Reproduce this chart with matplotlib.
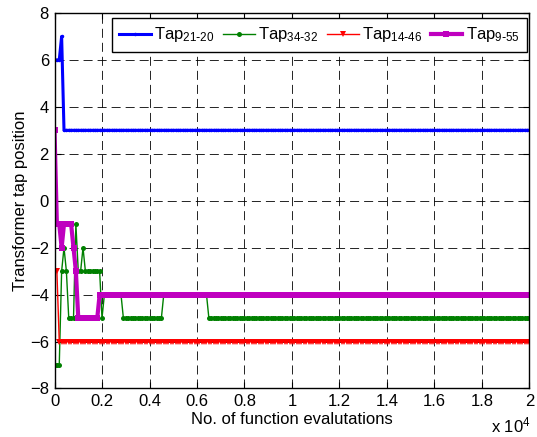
import numpy as np
import matplotlib
matplotlib.use('Agg')
import matplotlib.pyplot as plt

plt.rcParams['font.family'] = ['Liberation Sans', 'DejaVu Sans']
plt.rcParams['mathtext.default'] = 'regular'
plt.rcParams['lines.scale_dashes'] = False

# Tap positions sampled every 100 function evaluations,
# stored as (value, number of samples) runs read off the figure
step = 100
n_evals = 20000

tap_21_20_vals = [6, 7, 3]
tap_21_20_runs = [3, 1, 197]

tap_34_32_vals = [-7, -3, -2, -3, -5, -1, -3, -2, -3, -5, -4, -5, -4, -5]
tap_34_32_runs = [3, 1, 1, 1, 3, 1, 2, 1, 7, 1, 8, 17, 19, 136]

tap_14_46_vals = [-3, -6]
tap_14_46_runs = [2, 199]

tap_9_55_vals = [3, -1, -2, -1, -2, -3, -5, -4]
tap_9_55_runs = [1, 2, 1, 4, 1, 1, 9, 182]

labels = [r'Tap$_{21\text{-}20}$', r'Tap$_{34\text{-}32}$',
          r'Tap$_{14\text{-}46}$', r'Tap$_{9\text{-}55}$']

x_ticks = np.arange(0, n_evals + 1, 2000)
x_tick_labels = ['0', '0.2', '0.4', '0.6', '0.8', '1', '1.2', '1.4', '1.6', '1.8', '2']
y_ticks = np.arange(-8, 9, 2)

evals = np.arange(0, n_evals + 1, step)
tap_21_20 = np.repeat(tap_21_20_vals, tap_21_20_runs)
tap_34_32 = np.repeat(tap_34_32_vals, tap_34_32_runs)
tap_14_46 = np.repeat(tap_14_46_vals, tap_14_46_runs)
tap_9_55 = np.repeat(tap_9_55_vals, tap_9_55_runs)

fig = plt.figure(figsize=(5.37, 4.37), dpi=100)
ax = fig.add_axes([0.1015, 0.111, 0.8845, 0.8593])

ax.plot(evals, tap_21_20, color='#0000ff', lw=2.2, marker='.', ms=3, label=labels[0])
ax.plot(evals, tap_34_32, color='#008000', lw=1.0, marker='o', ms=3.6, mew=0, label=labels[1])
ax.plot(evals, tap_14_46, color='#ff0000', lw=1.0, marker='v', ms=4, mew=0, label=labels[2])
ax.plot(evals, tap_9_55, color='#bf00bf', lw=3.0, marker='s', ms=5, mew=0, label=labels[3])

ax.set_xlim(0, n_evals)
ax.set_ylim(-8, 8)
ax.set_xticks(x_ticks)
ax.set_xticklabels(x_tick_labels)
ax.set_yticks(y_ticks)
ax.tick_params(direction='in', top=True, right=True, length=4, width=0.8,
               labelsize=12, pad=4)
ax.grid(True, color='black', lw=0.6, linestyle=(0, (6.5, 3.6)))
for s in ax.spines.values():
    s.set_linewidth(1.0)

ax.set_xlabel('No. of function evalutations', fontsize=12, labelpad=2)
ax.set_ylabel('Transformer tap position', fontsize=12, labelpad=1)
fig.text(0.988, 0.004, r'x 10$^4$', ha='right', va='bottom', fontsize=12)

leg = ax.legend(loc='upper right', bbox_to_anchor=(0.995, 0.987), ncol=4,
                fontsize=12, frameon=True, fancybox=False, framealpha=1,
                edgecolor='black', borderaxespad=0, handlelength=1.9,
                handletextpad=0.2, columnspacing=0.5, borderpad=0.45)
leg.get_frame().set_linewidth(1.0)

fig.savefig('out.png', dpi=100)
